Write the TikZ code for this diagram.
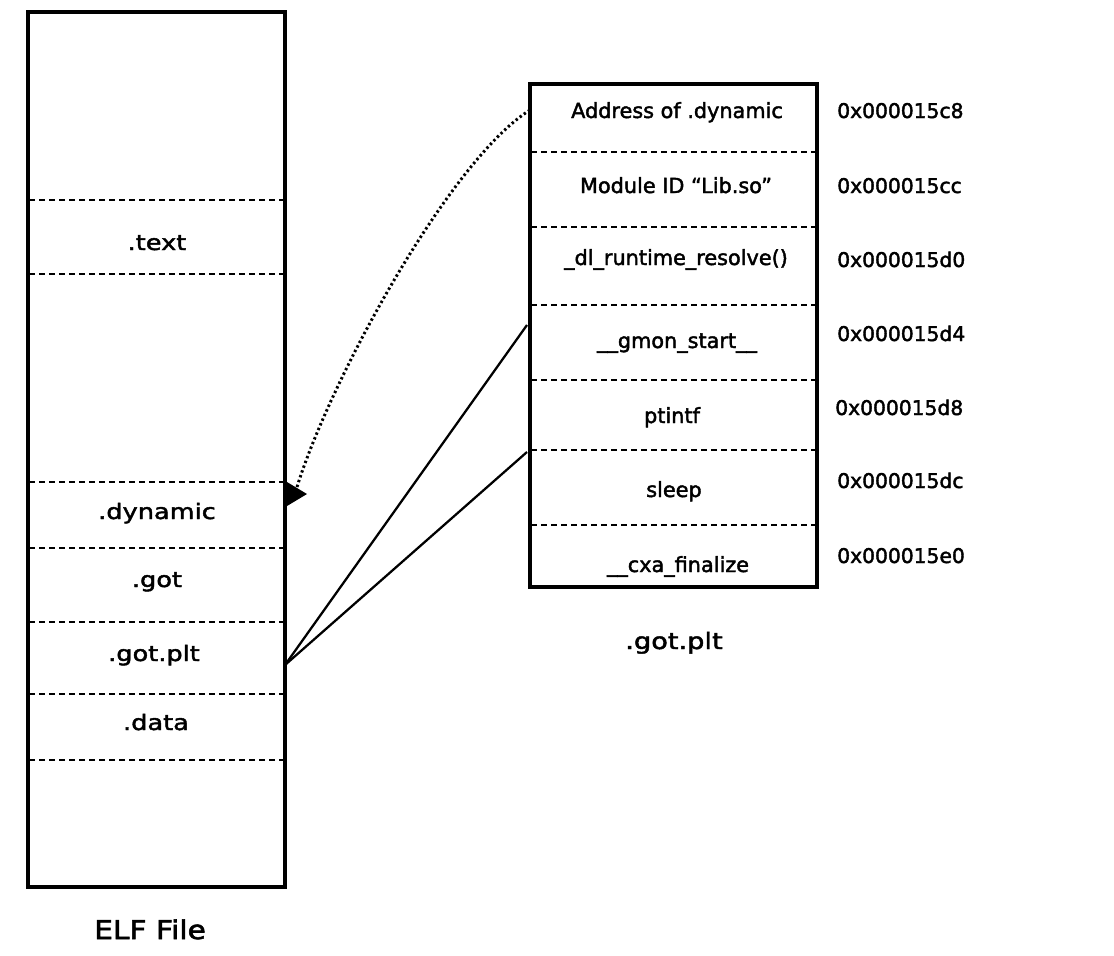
\documentclass[tikz,border=0pt]{standalone}
\usepackage{fontspec}
\setmainfont[FakeBold=2]{DejaVu Sans}
\newfontfamily\widefont[FakeStretch=1.2,FakeBold=2]{DejaVu Sans}
\newfontfamily\elffont[FakeStretch=1.15,FakeBold=2.2]{DejaVu Sans}
\begin{document}
\begin{tikzpicture}[x=0.75pt,y=-0.75pt,
  box/.style={draw, line width=2.6pt},
  sep/.style={line width=1.8pt, dash pattern=on 4.5pt off 3pt},
  seclabel/.style={anchor=base, inner sep=0pt, font=\widefont\fontsize{16}{18}\selectfont},
  rowlabel/.style={anchor=base, inner sep=0pt, font=\fontsize{15.6}{18}\selectfont},
  addr/.style={anchor=base west, inner sep=0pt, font=\fontsize{15.2}{18}\selectfont},
  title/.style={anchor=base, inner sep=0pt},
  link/.style={line width=1.7pt},
  dots/.style={line width=2.2pt, dash pattern=on 1.8pt off 2pt},
]
\useasboundingbox (0,0) rectangle (1114,956);

% ELF file box
\draw[box] (28,12) rectangle (285,887);
\foreach \y in {200,274,482,548,622,694,760}
  \draw[sep] (29,\y) -- (284,\y);
\node[seclabel] (text) at (157,250) {.text};
\node[seclabel] (dynamic) at (157,519) {.dynamic};
\node[seclabel] (got) at (157,587) {.got};
\node[seclabel] (gotplt) at (154,661) {.got.plt};
\node[seclabel] (data) at (156,730) {.data};
\node[title, font=\elffont\fontsize{19.4}{22}\selectfont] (elf) at (150,939) {ELF File};

% .got.plt table
\draw[box] (530,84) rectangle (817,587);
\foreach \y in {152,227,305,380,450,525}
  \draw[sep] (531,\y) -- (816,\y);
\node[rowlabel] (r1) at (677,118) {Address of .dynamic};
\node[rowlabel] (r2) at (676,193) {Module ID “Lib.so”};
\node[rowlabel] (r3) at (676,265) {\_dl\_runtime\_resolve()};
\node[rowlabel] (r4) at (677,348) {\_\_gmon\_start\_\_};
\node[rowlabel] (r5) at (672,423) {ptintf};
\node[rowlabel] (r6) at (674,497) {sleep};
\node[rowlabel] (r7) at (678,572) {\_\_cxa\_finalize};
\node[title, font=\widefont\fontsize{17}{20}\selectfont] (tabletitle) at (674,649) {.got.plt};

\node[addr] (a1) at (837,118) {0x000015c8};
\node[addr] (a2) at (837,193) {0x000015cc};
\node[addr] (a3) at (837,267) {0x000015d0};
\node[addr] (a4) at (837,341) {0x000015d4};
\node[addr] (a5) at (835,415) {0x000015d8};
\node[addr] (a6) at (837,488) {0x000015dc};
\node[addr] (a7) at (837,563) {0x000015e0};

% connectors
\coordinate (elfgotplt) at (285,665);
\coordinate (tgmon) at (527,325);
\coordinate (tsleep) at (527,452);
\coordinate (tdyn) at (530,110);
\coordinate (dynend) at (297,487);
\coordinate (dyntip) at (287,494);
\draw[link] (elfgotplt) -- (tgmon);
\draw[link] (elfgotplt) -- (tsleep);
\draw[dots] (tdyn) .. controls (450,160) and (330,380) .. (dynend);
\fill (dyntip) ++(0,-12) -- ++(0,24) -- ++(20,-12) -- cycle;
\end{tikzpicture}
\end{document}
